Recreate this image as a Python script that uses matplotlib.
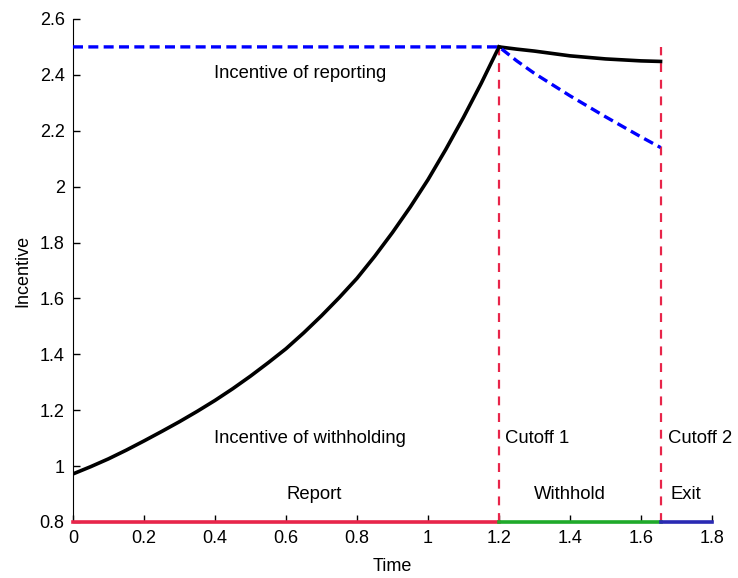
import matplotlib
matplotlib.use("Agg")
import matplotlib.pyplot as plt

# incentive of withholding before the first cutoff
t_rise = [0.0, 0.05, 0.1, 0.15, 0.2, 0.25, 0.3, 0.35, 0.4, 0.45, 0.5, 0.55,
          0.6, 0.65, 0.7, 0.75, 0.8, 0.85, 0.9, 0.95, 1.0, 1.05, 1.1, 1.15, 1.2]
w_rise = [0.972, 0.998, 1.026, 1.057, 1.090, 1.124, 1.159, 1.196, 1.235, 1.277,
          1.322, 1.370, 1.420, 1.477, 1.538, 1.603, 1.672, 1.751, 1.836, 1.927,
          2.025, 2.133, 2.248, 2.370, 2.5]

# both incentives between the two cutoffs
t_mid = [1.2, 1.25, 1.3, 1.4, 1.5, 1.6, 1.655]
w_mid = [2.5, 2.492, 2.485, 2.468, 2.457, 2.450, 2.448]
r_mid = [2.5, 2.450, 2.405, 2.325, 2.250, 2.178, 2.140]

# incentive of reporting before the first cutoff
t_flat = [0.0, 1.2]
r_flat = [2.5, 2.5]

cutoff1 = 1.2
cutoff2 = 1.655
t_end = 1.8

crimson = "#e8254a"

plt.rcParams["font.family"] = ["Liberation Sans", "DejaVu Sans"]
plt.rcParams["font.size"] = 13

fig = plt.figure(figsize=(7.38, 5.78), dpi=100)
ax = fig.add_axes([0.0989, 0.0969, 0.8659, 0.8703])

ax.plot(t_rise, w_rise, color="black", lw=2.6, zorder=3)
ax.plot(t_mid, w_mid, color="black", lw=2.6, zorder=3)
ax.plot(t_flat + t_mid[1:], r_flat + r_mid[1:], color="blue", lw=2.4,
        ls=(0, (3.0, 1.6)), zorder=4)

for c in (cutoff1, cutoff2):
    ax.plot([c, c], [0.8, 2.5], color=crimson, lw=1.6, ls=(0, (4, 3.5)), zorder=2)

# regime bands along the time axis
ax.plot([0, cutoff1], [0.8, 0.8], color=crimson, lw=2.6, clip_on=False, zorder=5)
ax.plot([cutoff1, cutoff2], [0.8, 0.8], color="#1faa2a", lw=2.6, clip_on=False, zorder=5)
ax.plot([cutoff2, t_end], [0.8, 0.8], color="#2a2ab4", lw=2.6, clip_on=False, zorder=5)

ax.text(0.64, 2.405, "Incentive of reporting", ha="center", va="center", fontsize=13.3)
ax.text(0.667, 1.10, "Incentive of withholding", ha="center", va="center", fontsize=13.3)
ax.text(1.217, 1.10, "Cutoff 1", ha="left", va="center", fontsize=13.3)
ax.text(1.676, 1.10, "Cutoff 2", ha="left", va="center", fontsize=13.3)
ax.text(0.68, 0.9, "Report", ha="center", va="center", fontsize=13.3)
ax.text(1.40, 0.9, "Withhold", ha="center", va="center", fontsize=13.3)
ax.text(1.727, 0.9, "Exit", ha="center", va="center", fontsize=13.3)

ax.set_xlim(0, 1.8)
ax.set_ylim(0.8, 2.6)
ax.set_xticks([0, 0.2, 0.4, 0.6, 0.8, 1, 1.2, 1.4, 1.6, 1.8])
ax.set_xticklabels(["0", "0.2", "0.4", "0.6", "0.8", "1", "1.2", "1.4", "1.6", "1.8"])
ax.set_yticks([0.8, 1, 1.2, 1.4, 1.6, 1.8, 2, 2.2, 2.4, 2.6])
ax.set_yticklabels(["0.8", "1", "1.2", "1.4", "1.6", "1.8", "2", "2.2", "2.4", "2.6"])
ax.tick_params(direction="in", length=5, width=1, pad=6)
ax.spines["top"].set_visible(False)
ax.spines["right"].set_visible(False)
ax.set_xlabel("Time", labelpad=8)
ax.set_ylabel("Incentive", labelpad=6)

fig.savefig("out.png", dpi=100)
